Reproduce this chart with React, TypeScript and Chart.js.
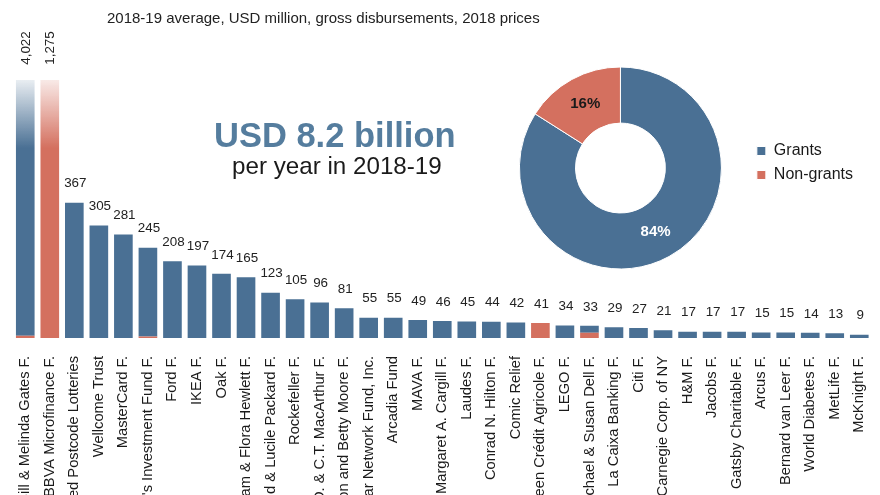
import React, { useEffect, useRef } from "react";
import { Chart, registerables } from "chart.js";

Chart.register(...registerables);

const FONT = 'Arial, "Liberation Sans", sans-serif';
const BLUE = "#4a7094";
const RED = "#d4705f";
const BLUE_FADE = "rgba(74,112,148,0.12)";
const RED_FADE = "rgba(212,112,95,0.15)";

const funders = [
  "Bill & Melinda Gates F.",
  "BBVA Microfinance F.",
  "Combined Postcode Lotteries",
  "Wellcome Trust",
  "MasterCard F.",
  "Children's Investment Fund F.",
  "Ford F.",
  "IKEA F.",
  "Oak F.",
  "William & Flora Hewlett F.",
  "David & Lucile Packard F.",
  "Rockefeller F.",
  "John D. & C.T. MacArthur F.",
  "Gordon and Betty Moore F.",
  "Omidyar Network Fund, Inc.",
  "Arcadia Fund",
  "MAVA F.",
  "Margaret A. Cargill F.",
  "Laudes F.",
  "Conrad N. Hilton F.",
  "Comic Relief",
  "Grameen Crédit Agricole F.",
  "LEGO F.",
  "Michael & Susan Dell F.",
  "La Caixa Banking F.",
  "Citi F.",
  "Carnegie Corp. of NY",
  "H&M F.",
  "Jacobs F.",
  "Gatsby Charitable F.",
  "Arcus F.",
  "Bernard van Leer F.",
  "World Diabetes F.",
  "MetLife F.",
  "McKnight F.",
];

const grants = [
  4016, 0, 367, 305, 281, 241, 208, 197, 174, 165, 123, 105, 96, 81, 55, 55,
  49, 46, 45, 44, 42, 0, 34, 19, 29, 27, 21, 17, 17, 17, 15, 15, 14, 13, 9,
];

const nonGrants = [
  6, 1275, 0, 0, 0, 4, 0, 0, 0, 0, 0, 0, 0, 0, 0, 0, 0, 0, 0, 0, 0, 41, 0, 14,
  0, 0, 0, 0, 0, 0, 0, 0, 0, 0, 0,
];

const axisMax = 700;

const shareLabels = ["Grants", "Non-grants"];
const shareValues = [84, 16];

const totals = grants.map((g, i) => g + nonGrants[i]);

const fadeFill = (color: string, fade: string) => (ctx: any) => {
  const chart = ctx.chart;
  const area = chart.chartArea;
  if (!area || ctx.type !== "data") return color;
  if (totals[ctx.dataIndex] <= axisMax) return color;
  const g = chart.ctx.createLinearGradient(0, area.top, 0, area.top + 68);
  g.addColorStop(0, fade);
  g.addColorStop(1, color);
  return g;
};

const valueLabels = {
  id: "valueLabels",
  afterDatasetsDraw(chart: any) {
    const { ctx, scales, chartArea } = chart;
    const x = scales.x;
    const y = scales.y;
    ctx.save();
    ctx.fillStyle = "#222";
    ctx.font = `13.4px ${FONT}`;
    ctx.textAlign = "center";
    ctx.textBaseline = "middle";
    totals.forEach((t, i) => {
      const px = x.getPixelForValue(i);
      const text = t.toLocaleString("en-US");
      if (t > axisMax) {
        ctx.save();
        ctx.translate(px + 1, chartArea.top - 32);
        ctx.rotate(-Math.PI / 2);
        ctx.fillText(text, 0, 0);
        ctx.restore();
      } else {
        ctx.fillText(text, px + 1, y.getPixelForValue(t) - 19);
      }
    });
    ctx.restore();
  },
};

const sliceLabels = {
  id: "sliceLabels",
  afterDatasetsDraw(chart: any) {
    const { ctx } = chart;
    const meta = chart.getDatasetMeta(0);
    ctx.save();
    ctx.font = `bold 15px ${FONT}`;
    ctx.textAlign = "center";
    ctx.textBaseline = "middle";
    meta.data.forEach((arc: any, i: number) => {
      const p = arc.getCenterPoint();
      ctx.fillStyle = i === 0 ? "#ffffff" : "#1a1a1a";
      ctx.fillText(shareValues[i] + "%", p.x, p.y);
    });
    ctx.restore();
  },
};

export default function App() {
  const barRef = useRef<HTMLCanvasElement>(null);
  const pieRef = useRef<HTMLCanvasElement>(null);

  useEffect(() => {
    const bar = new Chart(barRef.current as HTMLCanvasElement, {
      type: "bar",
      data: {
        labels: funders,
        datasets: [
          {
            label: "Non-grants",
            data: nonGrants,
            backgroundColor: fadeFill(RED, RED_FADE),
            categoryPercentage: 0.76,
            barPercentage: 1,
          },
          {
            label: "Grants",
            data: grants,
            backgroundColor: fadeFill(BLUE, BLUE_FADE),
            categoryPercentage: 0.76,
            barPercentage: 1,
          },
        ],
      },
      options: {
        animation: false,
        responsive: false,
        events: [],
        layout: { padding: { top: 80, left: 13, right: 6, bottom: 0 } },
        plugins: { legend: { display: false }, tooltip: { enabled: false } },
        scales: {
          x: {
            stacked: true,
            grid: { display: false, drawTicks: true, tickLength: 15 },
            border: { display: false },
            afterFit: (scale: any) => {
              scale.height = 157;
            },
            ticks: {
              autoSkip: false,
              maxRotation: 90,
              minRotation: 90,
              padding: 3,
              color: "#1a1a1a",
              font: { family: FONT, size: 14.7 },
            },
          },
          y: {
            stacked: true,
            display: false,
            min: 0,
            max: axisMax,
          },
        },
      },
      plugins: [valueLabels],
    });

    const pie = new Chart(pieRef.current as HTMLCanvasElement, {
      type: "doughnut",
      data: {
        labels: shareLabels,
        datasets: [
          {
            data: shareValues,
            backgroundColor: [BLUE, RED],
            borderColor: "#ffffff",
            borderWidth: 1,
          },
        ],
      },
      options: {
        animation: false,
        responsive: false,
        events: [],
        radius: 101,
        cutout: "44.5%",
        layout: { padding: 0 },
        plugins: {
          tooltip: { enabled: false },
          legend: {
            position: "right",
            align: "start",
            title: {
              display: true,
              text: "",
              font: { size: 10, lineHeight: 1 },
              padding: { top: 0, bottom: 62 },
            },
            labels: {
              boxWidth: 9,
              boxHeight: 9,
              padding: 8,
              color: "#1a1a1a",
              font: { family: FONT, size: 16 },
            },
          },
        },
      },
      plugins: [sliceLabels],
    });

    return () => {
      bar.destroy();
      pie.destroy();
    };
  }, []);

  return (
    <div
      style={{
        position: "absolute",
        left: 0,
        top: 0,
        width: 880,
        height: 495,
        overflow: "hidden",
        background: "#ffffff",
        fontFamily: FONT,
      }}
    >
      <canvas
        ref={barRef}
        width={880}
        height={495}
        style={{ position: "absolute", left: 0, top: 0, width: 880, height: 495 }}
      />
      <canvas
        ref={pieRef}
        width={371}
        height={210}
        style={{ position: "absolute", left: 492, top: 63, width: 371, height: 210 }}
      />
      <div
        style={{
          position: "absolute",
          left: 107,
          top: 10,
          fontSize: 15,
          lineHeight: "15px",
          color: "#222",
          whiteSpace: "nowrap",
        }}
      >
        2018-19 average, USD million, gross disbursements, 2018 prices
      </div>
      <div
        style={{
          position: "absolute",
          left: 214,
          top: 118,
          fontSize: 34.5,
          lineHeight: "34.5px",
          fontWeight: "bold",
          color: "#557d9e",
          whiteSpace: "nowrap",
        }}
      >
        USD 8.2 billion
      </div>
      <div
        style={{
          position: "absolute",
          left: 232,
          top: 154,
          fontSize: 24.2,
          lineHeight: "24.2px",
          color: "#1a1a1a",
          whiteSpace: "nowrap",
        }}
      >
        per year in 2018-19
      </div>
    </div>
  );
}
